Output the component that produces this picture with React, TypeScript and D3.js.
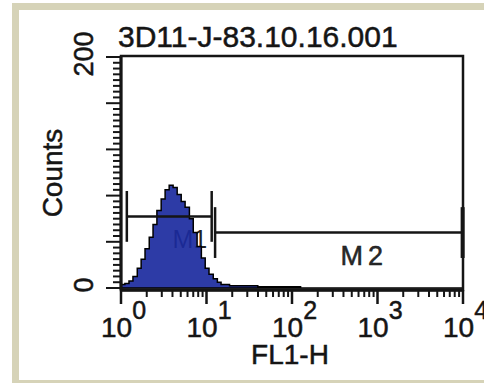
import * as d3 from 'd3'
import { useEffect, useRef } from 'react'

// FL1-H channel values (log scale) and histogram counts
const fl1H = [1.0, 1.11, 1.24, 1.38, 1.55, 1.72, 1.91, 2.14, 2.37, 2.63, 2.95, 3.28, 3.66, 4.07, 4.54, 5.06,
  5.62, 6.31, 7.0, 7.76, 8.71, 9.66, 10.7, 12.0, 13.4, 14.8, 18.6, 25.1, 39.8, 63.1, 126, 10000]
const counts = [3, 4, 6, 10, 17, 25, 34, 44, 55, 67, 77, 85, 89, 87, 81, 75,
  70, 60, 48, 36, 26, 17, 12, 8, 5, 3, 2, 2, 1, 1, 0, 0]

// markers: gate range and level (counts)
const markerNames = ['M1', 'M2']
const markerLo = [1.17, 12.6]
const markerHi = [11.5, 9900]
const markerLevel = [62, 48]
const markerHalf = [22, 22]
const markerLabelX = [4.0, 370]
const markerLabelY = [35, 20]

const xDecades = [1, 10, 100, 1000, 10000]
const xExponents = ['0', '1', '2', '3', '4']
const yMajor = [0, 40, 80, 120, 160, 200]
const yLabels = [0, 200]

const title = '3D11-J-83.10.16.001'
const FONT = '"Liberation Sans", Arial, Helvetica, sans-serif'
const INK = '#151515'

export default function App() {
  const ref = useRef<SVGSVGElement | null>(null)

  useEffect(() => {
    if (!ref.current) return
    const svg = d3.select(ref.current)
    svg.selectAll('*').remove()
    const W = 484, H = 383
    const m = { left: 121, right: 463, top: 56, bottom: 290 }

    // frame
    svg.append('rect').attr('width', W).attr('height', H).attr('fill', '#ffffff')
    svg.append('rect').attr('x', 12).attr('y', 3).attr('width', W - 12).attr('height', H - 3).attr('fill', '#d6d3b8')
    svg.append('rect').attr('x', 19).attr('y', 10).attr('width', W - 19).attr('height', 370).attr('fill', '#ffffff')

    const x = d3.scaleLog().domain([1, 10000]).range([m.left, m.right])
    const y = d3.scaleLinear().domain([0, 200]).range([288, 57])

    const g = svg.append('g').attr('font-family', FONT)
    const txt = (sel: d3.Selection<SVGTextElement, unknown, null, undefined>) =>
      sel.attr('fill', INK).attr('stroke', INK).attr('stroke-width', 0.5)

    // title
    txt(g.append('text').attr('x', 118).attr('y', 47).attr('font-size', 30)).text(title)

    // M1 label sits under the histogram
    g.append('text').attr('x', x(markerLabelX[0])).attr('y', y(markerLabelY[0]))
      .attr('font-size', 25).attr('fill', '#222').text(markerNames[0])

    // histogram
    const data = fl1H.map((v, i) => ({ v, c: counts[i] }))
    const area = d3.area<{ v: number; c: number }>()
      .x(d => x(d.v)).y0(y(0)).y1(d => y(d.c)).curve(d3.curveStepAfter)
    g.append('path').attr('d', area(data) ?? '')
      .attr('fill', '#1b2a9e').attr('fill-opacity', 0.92)
      .attr('stroke', '#000').attr('stroke-width', 1.5)

    // markers
    markerNames.forEach((name, i) => {
      const yl = y(markerLevel[i])
      const y1 = y(markerLevel[i] + markerHalf[i]), y2 = y(markerLevel[i] - markerHalf[i])
      g.append('line').attr('x1', x(markerLo[i])).attr('x2', x(markerHi[i]))
        .attr('y1', yl).attr('y2', yl).attr('stroke', INK).attr('stroke-width', 2.5)
      ;[markerLo[i], markerHi[i]].forEach((v, j) => {
        g.append('line').attr('x1', x(v)).attr('x2', x(v)).attr('y1', y1).attr('y2', y2)
          .attr('stroke', INK).attr('stroke-width', i === 1 && j === 1 ? 4 : 2.5)
      })
      if (i > 0) {
        txt(g.append('text').attr('x', x(markerLabelX[i])).attr('y', y(markerLabelY[i]))
          .attr('font-size', 27).attr('letter-spacing', 5)).attr('fill', '#2a2a2a').text(name)
      }
    })

    // plot box
    g.append('rect').attr('x', m.left).attr('y', m.top).attr('width', m.right - m.left)
      .attr('height', m.bottom - m.top).attr('fill', 'none').attr('stroke', INK).attr('stroke-width', 2.5)
    g.append('line').attr('x1', m.left).attr('x2', m.right).attr('y1', m.bottom).attr('y2', m.bottom)
      .attr('stroke', INK).attr('stroke-width', 3.5)
    g.append('line').attr('x1', m.left).attr('x2', m.left).attr('y1', m.top).attr('y2', m.bottom)
      .attr('stroke', INK).attr('stroke-width', 3)

    // y ticks
    d3.range(0, 201, 5).forEach(v => {
      const major = yMajor.includes(v)
      g.append('line').attr('x1', m.left).attr('x2', m.left - (major ? 15 : 8))
        .attr('y1', y(v)).attr('y2', y(v)).attr('stroke', INK).attr('stroke-width', 2)
    })
    yLabels.forEach(v => {
      txt(g.append('text').attr('transform', `translate(93,${y(v) - 3}) rotate(-90)`)
        .attr('text-anchor', 'middle').attr('font-size', 27)).text(String(v))
    })

    // x ticks (log)
    xDecades.forEach((d, i) => {
      g.append('line').attr('x1', x(d)).attr('x2', x(d)).attr('y1', m.bottom).attr('y2', m.bottom + 14)
        .attr('stroke', INK).attr('stroke-width', 2.5)
      if (i < xDecades.length - 1) {
        for (let k = 2; k <= 9; k++) {
          g.append('line').attr('x1', x(d * k)).attr('x2', x(d * k))
            .attr('y1', m.bottom).attr('y2', m.bottom + 7).attr('stroke', INK).attr('stroke-width', 2)
        }
      }
      const t = txt(g.append('text').attr('x', x(d) - 20).attr('y', 337).attr('font-size', 28))
      t.append('tspan').text('10')
      t.append('tspan').attr('dy', -18).attr('font-size', 25).text(xExponents[i])
    })

    // axis titles
    txt(g.append('text').attr('transform', `translate(62,173) rotate(-90)`).attr('text-anchor', 'middle')
      .attr('font-size', 28)).text('Counts')
    txt(g.append('text').attr('x', 290).attr('y', 364).attr('text-anchor', 'middle')
      .attr('font-size', 28)).text('FL1-H')
  }, [])

  return (
    <svg ref={ref} width={484} height={383}
      style={{ position: 'absolute', left: 0, top: 0, display: 'block' }} />
  )
}
